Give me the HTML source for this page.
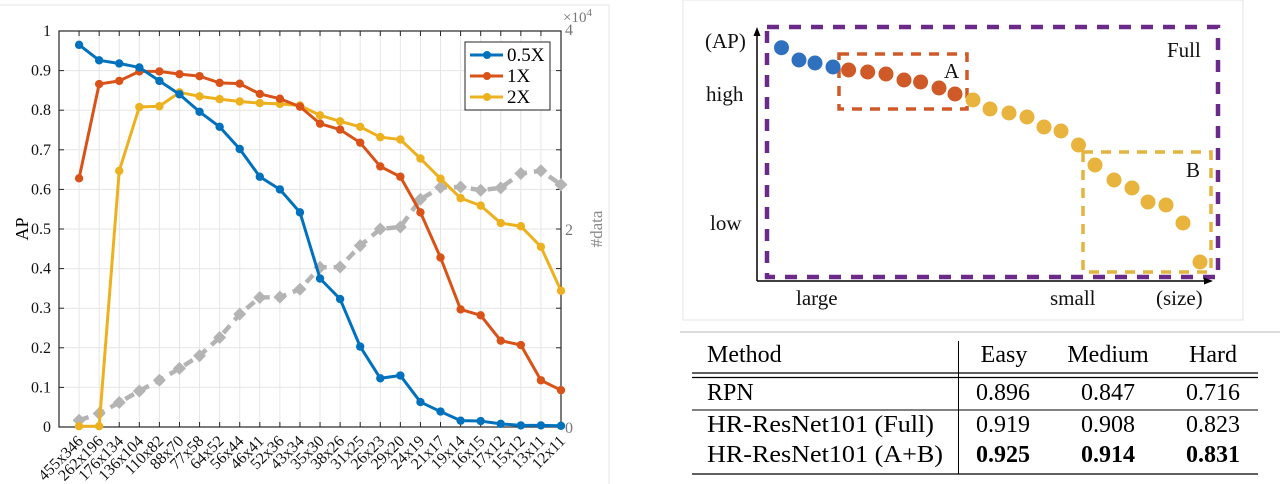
<!DOCTYPE html>
<html><head><meta charset="utf-8"><style>
body{margin:0;background:#fff;}
svg{display:block;font-family:"Liberation Serif",serif;}
</style></head><body>
<svg id="root" width="1280" height="484" viewBox="0 0 1280 484" xmlns="http://www.w3.org/2000/svg">
<g><line x1="0" y1="5" x2="609" y2="5" stroke="#e4e4e4"/><line x1="609" y1="5" x2="609" y2="484" stroke="#e4e4e4"/></g>
<g id="chart"></g>
<g id="diagram">
<rect x="683" y="0" width="560" height="320" fill="none" stroke="#e4e4e4"/>
</g>
<g id="table">
<line x1="680" y1="332" x2="1280" y2="332" stroke="#d0d0d0" stroke-width="1.5"/>
<line x1="692" y1="373" x2="1258" y2="373" stroke="#000" stroke-width="1.2"/>
<line x1="692" y1="377.5" x2="1258" y2="377.5" stroke="#000" stroke-width="1.2"/>
<line x1="692" y1="410" x2="1258" y2="410" stroke="#000" stroke-width="1"/>
<line x1="692" y1="474" x2="1258" y2="474" stroke="#000" stroke-width="1.2"/>
<line x1="958.5" y1="341" x2="958.5" y2="474" stroke="#000" stroke-width="1"/>
<g font-size="24" fill="#000">
<text x="707" y="362">Method</text>
<text x="1004" y="362" text-anchor="middle">Easy</text>
<text x="1108" y="362" text-anchor="middle">Medium</text>
<text x="1213" y="362" text-anchor="middle">Hard</text>
<text x="707" y="400">RPN</text>
<text x="1003" y="400" text-anchor="middle">0.896</text>
<text x="1108" y="400" text-anchor="middle">0.847</text>
<text x="1213" y="400" text-anchor="middle">0.716</text>
<text x="707" y="432" textLength="227" lengthAdjust="spacingAndGlyphs">HR-ResNet101 (Full)</text>
<text x="1003" y="432" text-anchor="middle">0.919</text>
<text x="1108" y="432" text-anchor="middle">0.908</text>
<text x="1213" y="432" text-anchor="middle">0.823</text>
<text x="707" y="462" textLength="236" lengthAdjust="spacingAndGlyphs">HR-ResNet101 (A+B)</text>
<text x="1003" y="462" text-anchor="middle" font-weight="bold">0.925</text>
<text x="1108" y="462" text-anchor="middle" font-weight="bold">0.914</text>
<text x="1213" y="462" text-anchor="middle" font-weight="bold">0.831</text>
</g>
</g>
</svg>
<script>
const categories=["455x346","262x196","176x134","136x104","110x82","88x70","77x58","64x52","56x44","46x41","52x36","43x34","35x30","38x26","31x25","26x23","29x20","24x19","21x17","19x14","16x15","17x12","15x12","13x11","12x11"];
const ap05=[0.965,0.926,0.918,0.908,0.874,0.84,0.796,0.758,0.702,0.632,0.600,0.542,0.375,0.323,0.203,0.123,0.130,0.063,0.039,0.016,0.015,0.008,0.004,0.004,0.003];
const ap1=[0.628,0.866,0.874,0.898,0.898,0.891,0.886,0.869,0.867,0.841,0.829,0.809,0.766,0.751,0.718,0.658,0.632,0.542,0.428,0.297,0.282,0.218,0.207,0.118,0.093];
const ap2=[0.002,0.002,0.647,0.808,0.810,0.845,0.835,0.828,0.822,0.818,0.816,0.812,0.787,0.772,0.758,0.732,0.726,0.678,0.627,0.578,0.559,0.515,0.507,0.455,0.344];
const numData=[0.068,0.136,0.248,0.364,0.472,0.592,0.72,0.904,1.14,1.308,1.312,1.392,1.612,1.616,1.832,2.0,2.02,2.3,2.42,2.424,2.392,2.416,2.56,2.588,2.448];
const yTicks=[0,0.1,0.2,0.3,0.4,0.5,0.6,0.7,0.8,0.9,1];
const yTickLabels=["0","0.1","0.2","0.3","0.4","0.5","0.6","0.7","0.8","0.9","1"];
const y2Ticks=[0,2,4];
const seriesNames=["0.5X","1X","2X"];
const NS="http://www.w3.org/2000/svg";
const L=59,R=561,T=31,B=427;
const xs=i=>L+(i+1)*(R-L)/25;
const ys=v=>B-v*(B-T);
const ys2=v=>B-v/4*(B-T);
const chart=document.getElementById('chart');
function mk(tag,attrs,parent){const e=document.createElementNS(NS,tag);for(const k in attrs)e.setAttribute(k,attrs[k]);(parent||chart).appendChild(e);return e;}
categories.forEach((c,i)=>{const g=mk('line',{x1:xs(i),y1:T,x2:xs(i),y2:B,stroke:'#e6e6e6'});

});
yTicks.forEach(v=>{const g=mk('line',{x1:L,y1:ys(v),x2:R,y2:ys(v),stroke:'#e6e6e6'});

});
const box=mk('rect',{x:L,y:T,width:R-L,height:B-T,fill:'none',stroke:'#262626','stroke-width':1.2});


categories.forEach((c,i)=>{mk('line',{x1:xs(i),y1:T,x2:xs(i),y2:T+5,stroke:'#262626'});mk('line',{x1:xs(i),y1:B,x2:xs(i),y2:B-5,stroke:'#262626'});
const t=mk('text',{x:xs(i)+5,y:442,'font-size':16,'text-anchor':'end',transform:`rotate(-45 ${xs(i)+5} 442)`,fill:'#111'});t.textContent=c;

});
yTicks.forEach((v,i)=>{mk('line',{x1:L,y1:ys(v),x2:L+5,y2:ys(v),stroke:'#262626'});mk('line',{x1:R,y1:ys(v),x2:R-5,y2:ys(v),stroke:'#262626'});
const t=mk('text',{x:L-8,y:ys(v)+5,'font-size':16,'text-anchor':'end',fill:'#111'});t.textContent=yTickLabels[i];

});
y2Ticks.forEach(v=>{const t=mk('text',{x:R+4,y:ys2(v)+(v===4?4:6),'font-size':16,fill:'#777'});t.textContent=String(v);

});
const ex=mk('text',{x:563,y:22,'font-size':15,fill:'#777'});ex.innerHTML='×10<tspan dy="-6" font-size="11">4</tspan>';


const yt=mk('text',{x:0,y:0,'font-size':18,'text-anchor':'middle',transform:'translate(28 229) rotate(-90)',fill:'#000'});yt.textContent='AP';


const yt2=mk('text',{x:0,y:0,'font-size':17,'text-anchor':'middle',transform:'translate(602 229) rotate(-90)',fill:'#888'});yt2.textContent='#data';


const gp=mk('polyline',{points:numData.map((v,i)=>xs(i)+','+ys2(v)).join(' '),fill:'none',stroke:'#b4b4b4','stroke-width':4.5,'stroke-dasharray':'10 7'});


numData.forEach((v,i)=>{const x=xs(i),y=ys2(v);const d=mk('polygon',{points:`${x},${y-6.5} ${x+6.5},${y} ${x},${y+6.5} ${x-6.5},${y}`,fill:'#b4b4b4'});

});
const series=[ap05,ap1,ap2],colors=['#0072BD','#D95319','#EDB120'],snames=['series-0-5x','series-1x','series-2x'];
[2,1,0].forEach(s=>{const g=mk('g',{});


mk('polyline',{points:series[s].map((v,i)=>xs(i)+','+ys(v)).join(' '),fill:'none',stroke:colors[s],'stroke-width':3,'stroke-linejoin':'round'},g);
series[s].forEach((v,i)=>{const c=mk('circle',{cx:xs(i),cy:ys(v),r:4.2,fill:colors[s]},g);

});});
const lg=mk('g',{});


mk('rect',{x:465,y:42,width:85,height:68,fill:'#fff',stroke:'#262626'},lg);
seriesNames.forEach((n,i)=>{const y=55+i*21;const e=mk('g',{},lg);


mk('line',{x1:470,y1:y,x2:503,y2:y,stroke:colors[i],'stroke-width':3},e);mk('circle',{cx:487,cy:y,r:4,fill:colors[i]},e);
const t=mk('text',{x:507,y:y+6,'font-size':19,fill:'#000'},e);t.textContent=n;});
const dg=document.getElementById('diagram');
function dmk(tag,attrs){return mk(tag,attrs,dg);}
const blueDots=[[781.5,47.7],[799,60],[815,63],[833,67]];
const orangeDots=[[848.6,70],[867.7,72],[886,74],[904,80],[920.6,82],[939,88],[955,94]];
const yellowDots=[[973,100],[990,109],[1009,113],[1027,117],[1044,127],[1061,131],[1078.5,145],[1095,165],[1114,180],[1132,188],[1148,202],[1166,205],[1183,223],[1200,262]];
dmk('rect',{x:767,y:27,width:451,height:250,fill:'none',stroke:'#6b2a8a','stroke-width':4.5,'stroke-dasharray':'12 10'});
dmk('rect',{x:839,y:54,width:128,height:55,fill:'none',stroke:'#cf5a28','stroke-width':3.5,'stroke-dasharray':'10 8'});
dmk('rect',{x:1083,y:152,width:128,height:120,fill:'none',stroke:'#e4b440','stroke-width':3.5,'stroke-dasharray':'10 8'});
dmk('line',{x1:757,y1:281,x2:757,y2:34,stroke:'#000','stroke-width':1.5});
dmk('polygon',{points:'757,27 753.5,36 760.5,36',fill:'#000'});
dmk('line',{x1:757,y1:281,x2:1206,y2:281,stroke:'#000','stroke-width':1.5});
dmk('polygon',{points:'1213,281 1204,277.5 1204,284.5',fill:'#000'});
blueDots.forEach(p=>{const c=dmk('circle',{cx:p[0],cy:p[1],r:7.5,fill:'#2f70bf'});});
orangeDots.forEach(p=>{const c=dmk('circle',{cx:p[0],cy:p[1],r:7.5,fill:'#cf5a28'});});
yellowDots.forEach(p=>{const c=dmk('circle',{cx:p[0],cy:p[1],r:7.5,fill:'#e9b43e'});});
[['(AP)',705,48,'diagram-y-label'],['high',706,101,'label-high'],['low',710,230,'label-low'],['Full',1167,57,'label-full'],['large',796,305,'label-large'],['small',1050,305,'label-small'],['(size)',1156,305,'diagram-x-label'],['A',944,78,'label-a'],['B',1186,177,'label-b']].forEach(a=>{const t=dmk('text',{x:a[1],y:a[2],'font-size':21,fill:'#111'});t.textContent=a[0];

});
</script>
</body></html>
